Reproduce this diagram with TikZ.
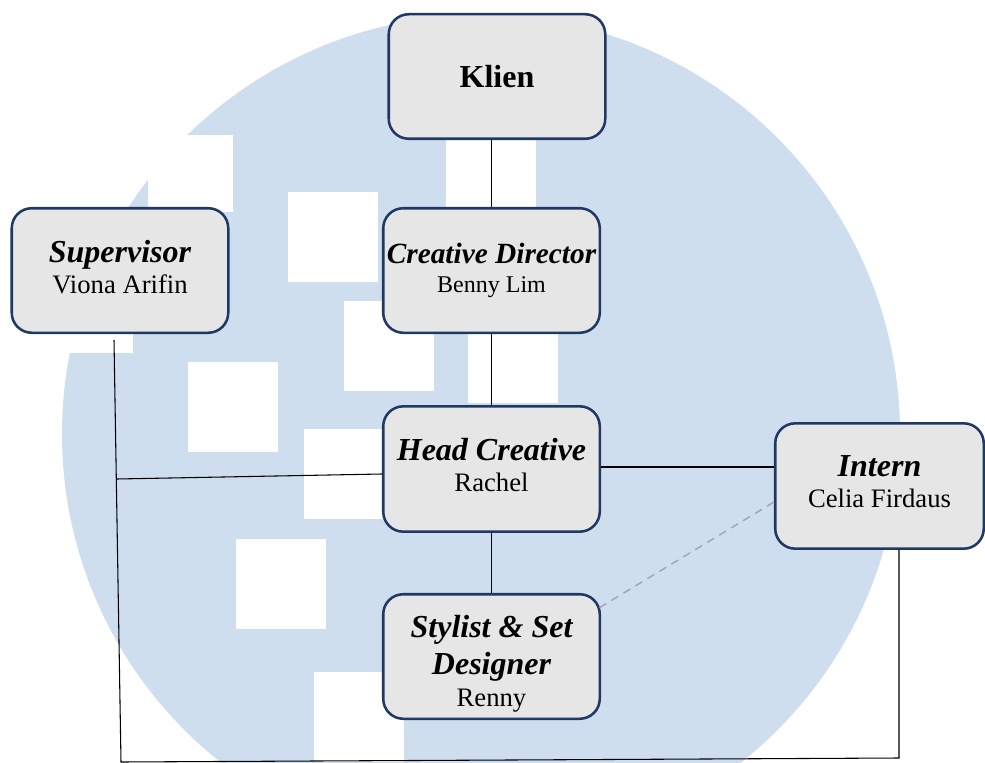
\documentclass[tikz,border=0pt]{standalone}
\usepackage{fontspec}
\setmainfont{Liberation Serif}
\definecolor{logoblue}{HTML}{CEDEEE}
\definecolor{boxgray}{HTML}{E6E6E6}
\definecolor{boxline}{HTML}{1F3864}
\definecolor{dashgray}{HTML}{A6A6A6}
\newcommand{\jabatan}[1]{{\bfseries\itshape\fontsize{24}{27.75}\selectfont #1}}

\begin{document}
\begin{tikzpicture}[x=0.75pt,y=-0.75pt,
	box/.style={draw=boxline,fill=boxgray,line width=1.9pt,rounded corners=15pt,minimum width=162.4pt,minimum height=93.4pt,inner sep=0pt,align=center,font=\fontsize{20}{23.25}\selectfont},
	link/.style={line width=0.8pt}]
	\useasboundingbox (0,0) rectangle (985,763);
	\fill[logoblue] (481,434) circle[radius=314.25pt];
	\foreach \x/\y in {288/192,344/301,188/362,304/429,236/539,314/672,446/117,468/313}
		\fill[white] (\x,\y) rectangle ++(90,90);
	\fill[white] (100,135) rectangle (233,172); \fill[white] (148,172) rectangle (233,212); \fill[white] (40,240) rectangle (133,353);

	\node[box] (klien) at (497,76.5) {\textbf{\fontsize{24}{24}\selectfont Klien}};
	\node[box] (sup) at (120,270.5) {\jabatan{Supervisor}\\Viona Arifin\rule[-6pt]{0pt}{6pt}};
	\node[box,font=\fontsize{18}{21.75}\selectfont] (cd) at (491.5,270.5) {{\bfseries\itshape\fontsize{22}{22}\selectfont Creative Director}\\Benny Lim};
	\node[box,minimum height=94pt] (head) at (491.5,469) {\jabatan{Head Creative}\\Rachel\rule[-5.5pt]{0pt}{5.5pt}};
	\node[box,minimum width=156.4pt,minimum height=94pt] (intern) at (879.5,486) {\jabatan{Intern}\\Celia Firdaus\rule[-6pt]{0pt}{6pt}};
	\node[box] (stylist) at (491.5,656.5) {\jabatan{\rule{0pt}{27pt}Stylist \& Set}\\[4.5pt]\jabatan{Designer}\\[0.75pt]Renny};

	\draw[link] (klien.south -| cd.north) -- (cd.north);
	\draw[link] (cd) -- (head); \draw[link] (head) -- (stylist);
	\draw[link] ([yshift=1.5pt]head.east) -- ([yshift=1.5pt]head.east -| intern.west);
	\coordinate (sojoin) at (117,479); \coordinate (soatas) at (114,340); \coordinate (sobawah) at (121,762); \coordinate (inbawah) at (899,758);
	\draw[link] ([yshift=-3.75pt]head.west) -- (sojoin);
	\draw[link] (soatas) -- (sobawah) -- (inbawah) -- (inbawah |- intern.south);
	\draw[dashgray,line width=1.1pt,dash pattern=on 6pt off 4.5pt] ([yshift=-12pt]intern.west) -- ([xshift=-1.5pt,yshift=-11.25pt]stylist.north east);
\end{tikzpicture}
\end{document}
